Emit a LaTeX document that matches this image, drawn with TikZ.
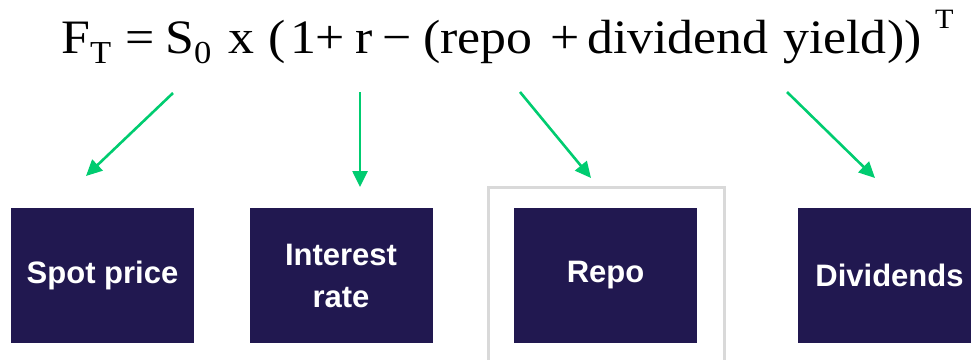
\documentclass[tikz,border=0pt]{standalone}
\usepackage{graphicx}
\usepackage{fontspec}
\setmainfont{Liberation Serif}
\newfontfamily\boxfont{Liberation Sans}
\usetikzlibrary{arrows.meta}
\definecolor{boxblue}{RGB}{33,24,80}
\definecolor{arrowgreen}{RGB}{0,204,112}
\definecolor{framegray}{RGB}{217,217,217}
\newcommand{\fpart}[2]{\makebox[#1pt][l]{\scalebox{1.08}[1]{#2}}}
\newcommand{\fsub}[1]{\raisebox{-10pt}{\fontsize{32}{34}\selectfont #1}}
\newcommand{\fsup}[1]{\raisebox{25pt}{\fontsize{28}{30}\selectfont #1}}

\begin{document}
\begin{tikzpicture}[x=1pt,y=-1pt]
\tikzstyle{every node}+=[inner sep=0pt]
\tikzstyle{factor}=[fill=boxblue, text=white, minimum width=183pt, minimum height=135pt, align=center, font=\boxfont\bfseries\fontsize{31}{42}\selectfont]
\tikzstyle{link}=[arrowgreen, line width=2.6pt, -{Triangle[length=16pt,width=15pt]}]
\useasboundingbox (0,0) rectangle (971,359);
\draw [framegray, line width=3pt] (488,187) rectangle (724,390);
\node [anchor=base west, font=\fontsize{48}{50}\selectfont] (formula) at (61,53) {%
\fpart{64}{F\fsub{T}}\fpart{40}{=}\fpart{63}{S\fsub{0}}%
\fpart{40}{x}\fpart{22}{(}\fpart{25}{1}\fpart{40}{+}\fpart{27}{r}\fpart{41}{−}%
\fpart{17}{(}\fpart{110}{repo}\fpart{37}{+}\fpart{196}{dividend}\fpart{104}{yield}%
\fpart{48}{))}\fpart{20}{\fsup{T}}};
\node [factor] (spot) at (102.5,275.5) {Spot price};
\node [factor] (rate) at (341,275.5) {Interest\\rate};
\node [factor] (repo) at (605.5,275.5) {Repo};
\node [factor] (div) at (889.5,275.5) {Dividends};
\coordinate (spot-from) at (173,93);
\coordinate (spot-to) at (86,176);
\coordinate (rate-from) at (360,92);
\coordinate (rate-to) at (360,187);
\coordinate (repo-from) at (520,92);
\coordinate (repo-to) at (591,178);
\coordinate (div-from) at (787,92);
\coordinate (div-to) at (875,178);
\draw [link] (spot-from) -- (spot-to);
\draw [link] (rate-from) -- (rate-to);
\draw [link] (repo-from) -- (repo-to);
\draw [link] (div-from) -- (div-to);
\end{tikzpicture}
\end{document}
